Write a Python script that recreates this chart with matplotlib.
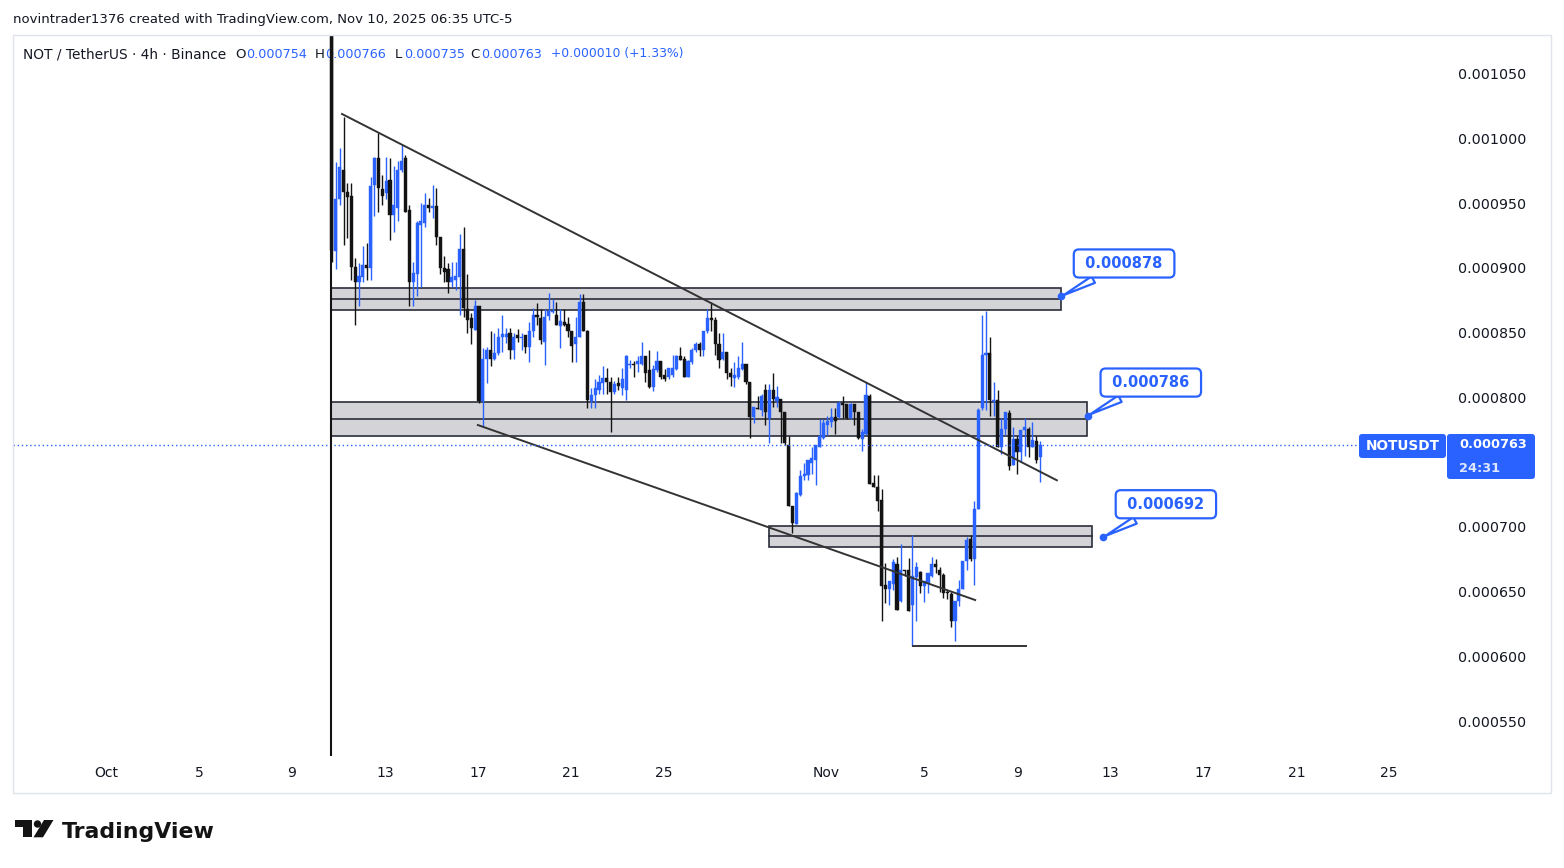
import numpy as np
import matplotlib.pyplot as plt
from matplotlib.patches import Rectangle, FancyBboxPatch, Circle, Polygon
from matplotlib.ticker import FuncFormatter

BLUE = '#2962ff'
DARK = '#131722'
CANDLE_DOWN = '#131313'

# NOTUSDT 4h candles, prices in millionths of USDT
opens = [1150, 913, 953, 976, 959, 956, 901, 889, 893, 902,
         900, 964, 985, 961, 958, 968, 941, 946, 976, 985,
         945, 889, 895, 933, 935, 949, 946, 948, 924, 900,
         899, 889, 891, 893, 915, 868, 861, 852, 871, 797,
         830, 837, 830, 834, 847, 847, 850, 837, 848, 846,
         848, 839, 851, 864, 861, 843, 863, 866, 864, 855,
         858, 857, 851, 841, 847, 874, 851, 797, 802, 806,
         811, 815, 812, 804, 811, 807, 806, 825, 826, 826,
         826, 832, 821, 808, 821, 828, 817, 816, 817, 822,
         832, 830, 816, 827, 837, 841, 837, 851, 861, 860,
         841, 830, 835, 819, 815, 816, 822, 826, 812, 785,
         792, 790, 806, 784, 806, 797, 799, 789, 763, 716,
         702, 725, 739, 740, 749, 752, 762, 769, 779, 781,
         785, 785, 796, 795, 784, 795, 789, 768, 772, 801,
         734, 731, 721, 655, 652, 656, 671, 643, 667, 667,
         640, 661, 665, 654, 657, 662, 671, 667, 663, 650,
         648, 627, 643, 652, 674, 691, 675, 714, 792, 833,
         834, 797, 798, 762, 776, 788, 748, 768, 758, 775,
         776, 762, 766, 754]
highs = [1160, 982, 993, 1017, 966, 966, 908, 904, 917, 919,
         970, 986, 1004, 972, 986, 985, 979, 983, 995, 987,
         949, 905, 936, 950, 958, 954, 964, 962, 924, 909,
         904, 905, 905, 926, 932, 895, 865, 875, 871, 838,
         839, 851, 850, 854, 864, 854, 854, 850, 853, 850,
         848, 858, 869, 873, 868, 868, 881, 876, 874, 868,
         868, 862, 851, 862, 880, 880, 852, 807, 814, 817,
         824, 823, 816, 813, 816, 823, 833, 829, 828, 832,
         843, 832, 837, 825, 836, 828, 822, 823, 833, 833,
         839, 832, 829, 838, 843, 843, 851, 868, 874, 862,
         850, 850, 835, 823, 827, 832, 843, 826, 812, 793,
         801, 803, 810, 810, 819, 809, 799, 789, 770, 716,
         727, 744, 749, 752, 762, 763, 783, 783, 786, 792,
         792, 797, 801, 795, 796, 795, 789, 776, 812, 803,
         740, 740, 729, 672, 658, 675, 677, 687, 667, 676,
         694, 673, 666, 658, 664, 677, 675, 669, 664, 651,
         650, 643, 659, 674, 692, 694, 720, 792, 864, 867,
         847, 812, 806, 784, 789, 790, 777, 770, 775, 784,
         777, 781, 770, 766]
lows = [905, 899, 949, 918, 923, 891, 856, 871, 889, 891,
        891, 940, 943, 949, 953, 922, 928, 936, 974, 943,
        871, 871, 878, 885, 932, 943, 939, 918, 895, 889,
        881, 885, 883, 864, 862, 850, 841, 852, 796, 777,
        811, 824, 829, 833, 835, 842, 830, 830, 843, 837,
        834, 827, 847, 856, 841, 825, 860, 865, 856, 838,
        855, 847, 827, 827, 847, 851, 792, 792, 792, 803,
        803, 803, 773, 803, 806, 802, 798, 823, 816, 820,
        825, 812, 807, 805, 820, 814, 813, 814, 816, 821,
        829, 816, 816, 826, 835, 832, 832, 850, 851, 833,
        823, 829, 814, 809, 808, 814, 821, 810, 769, 780,
        791, 786, 779, 765, 793, 793, 765, 763, 716, 695,
        702, 724, 736, 736, 741, 732, 762, 768, 771, 777,
        772, 784, 784, 783, 783, 779, 768, 759, 771, 733,
        731, 712, 627, 641, 640, 651, 636, 642, 662, 635,
        608, 627, 649, 642, 649, 661, 664, 650, 645, 644,
        623, 612, 639, 652, 667, 674, 655, 714, 790, 790,
        786, 786, 762, 756, 771, 744, 748, 741, 750, 755,
        754, 762, 749, 735]
closes = [914, 953, 978, 959, 955, 901, 889, 894, 902, 900,
          963, 985, 962, 956, 967, 941, 949, 976, 983, 943,
          889, 896, 935, 936, 949, 946, 948, 924, 900, 897,
          889, 893, 894, 915, 869, 860, 854, 871, 797, 830,
          837, 830, 834, 847, 849, 849, 837, 847, 846, 847,
          839, 851, 864, 862, 844, 862, 867, 867, 856, 859,
          856, 851, 840, 847, 874, 851, 798, 802, 807, 812,
          815, 812, 804, 810, 809, 814, 832, 826, 825, 828,
          832, 819, 808, 822, 828, 816, 814, 823, 823, 832,
          829, 816, 828, 837, 841, 837, 851, 861, 860, 841,
          829, 835, 819, 816, 817, 823, 826, 812, 785, 793,
          791, 801, 789, 806, 799, 800, 789, 765, 716, 703,
          726, 739, 741, 752, 753, 763, 770, 780, 782, 785,
          782, 796, 794, 784, 795, 789, 769, 773, 802, 733,
          731, 720, 654, 652, 658, 673, 636, 667, 666, 635,
          662, 669, 654, 658, 664, 671, 669, 663, 649, 649,
          627, 643, 652, 674, 690, 675, 714, 790, 833, 834,
          798, 798, 762, 776, 789, 747, 768, 758, 775, 777,
          762, 767, 752, 763]

# support / resistance zones (bar index range, low, mid, high)
zone_start = [0.74, 0.74, 113.9]
zone_end = [189.4, 196.1, 197.4]
zone_low = [867.6, 770.5, 684.7]
zone_mid = [876.0, 783.2, 693.0]
zone_high = [884.6, 796.3, 700.7]

# callout labels
callout_idx = [189.4, 196.3, 200.2]
callout_price = [878, 786, 692]

# drawn lines (bar index, price)
upper_line_x, upper_line_y = [3.6, 188.3], [1019, 736]
lower_line_x, lower_line_y = [38.7, 167.2], [778.7, 643.5]
floor_x, floor_y = [151.1, 180.3], [608, 608]
marker_bar = 0.74

tick_days = [0, 4, 8, 12, 16, 20, 24, 31, 35, 39, 43, 47, 51, 55]   # days since Oct 1
tick_labels = ['Oct', '5', '9', '13', '17', '21', '25', 'Nov', '5', '9', '13', '17', '21', '25']
# 0.000750 sits under the last-price tag, so it is not shown
price_levels = [550, 600, 650, 700, 800, 850, 900, 950, 1000, 1050]
last_price = 763


def to_price(v):
    return np.asarray(v, dtype=float) * 1e-6


def bar_of_day(day):
    # first candle opens on day 9.72; session shifts a bit after the DST change
    return 1 + 6 * (day - 9.72) + (1.5 if day > 32 else 0)


def main():
    plt.rcParams['font.family'] = ['DejaVu Sans']
    W, H = 1564, 868
    fig = plt.figure(figsize=(W / 100, H / 100), dpi=100, facecolor='white')
    ax = fig.add_axes([13 / W, 1 - 756 / H, 1427 / W, 721 / H])
    ov = fig.add_axes([0, 0, 1, 1], zorder=10)
    ov.set_xlim(0, W)
    ov.set_ylim(H, 0)
    ov.axis('off')
    ov.patch.set_alpha(0)

    o, h, l, c = map(to_price, (opens, highs, lows, closes))
    x = np.arange(1, len(o) + 1)
    up = c >= o
    colors = np.where(up, BLUE, CANDLE_DOWN)

    # zones
    for x0, x1, lo, mid, hi in zip(zone_start, zone_end, zone_low, zone_mid, zone_high):
        ax.add_patch(Rectangle((x0, lo * 1e-6), x1 - x0, (hi - lo) * 1e-6,
                               fc='#d4d4d8', ec='#2a2e39', lw=1.2, zorder=1))
        ax.plot([x0, x1], [mid * 1e-6] * 2, color='#2a2e39', lw=1.2, zorder=1.5)

    # candles
    ax.vlines(x, l, h, colors=colors, lw=1.0, zorder=2)
    body = np.maximum(np.abs(c - o), 1.0e-6)
    ax.bar(x, body, bottom=np.minimum(o, c), width=0.8, color=colors,
           edgecolor=colors, lw=0.3, zorder=2.5)

    # trend lines and marker lines
    ax.plot(upper_line_x, to_price(upper_line_y), color='#333333', lw=1.4, zorder=3)
    ax.plot(lower_line_x, to_price(lower_line_y), color='#333333', lw=1.4, zorder=3)
    ax.plot(floor_x, to_price(floor_y), color='#333333', lw=1.4, zorder=3)
    ax.axvline(marker_bar, color=CANDLE_DOWN, lw=1.5, zorder=4)

    # last price line
    ax.axhline(last_price * 1e-6, color=BLUE, lw=1, ls=(0, (1, 2)), zorder=3)

    # callouts
    for xi, p in zip(callout_idx, callout_price):
        ax.annotate(' {:.6f} '.format(p * 1e-6), xy=(xi, p * 1e-6), xytext=(63, 33),
                    textcoords='offset pixels', ha='center', va='center',
                    fontsize=10.5, fontweight='bold', color=BLUE, zorder=6,
                    bbox=dict(boxstyle='round,pad=0.45,rounding_size=0.35',
                              fc='white', ec=BLUE, lw=1.6),
                    arrowprops=dict(arrowstyle='wedge,tail_width=0.5,shrink_factor=0.5',
                                    fc='white', ec=BLUE, lw=1.6),
                    annotation_clip=False)
        ax.plot(xi, p * 1e-6, 'o', ms=4.5, color=BLUE, zorder=7, clip_on=False)

    ax.set_xlim(-81.4, 287.3)
    ax.set_ylim(523e-6, 1080e-6)
    for s in ax.spines.values():
        s.set_visible(False)
    ax.yaxis.tick_right()
    ax.set_yticks(to_price(price_levels))
    ax.yaxis.set_major_formatter(FuncFormatter(lambda v, _: '{:.6f}'.format(v)))
    ax.tick_params(axis='y', length=0, pad=13, labelsize=10.3, labelcolor=DARK)
    ax.set_xticks([bar_of_day(d) for d in tick_days])
    ax.set_xticklabels(tick_labels)
    ax.tick_params(axis='x', length=0, pad=7.5, labelsize=10, labelcolor=DARK)

    # legend line (drawn under the vertical marker line)
    legend_parts = [(23, 'NOT / TetherUS · 4h · Binance', DARK, 9.9), (235, 'O', DARK, 9.5),
                    (246, '0.000754', BLUE, 9.2), (315, 'H', DARK, 9.5), (325, '0.000766', BLUE, 9.2),
                    (395, 'L', DARK, 9.5), (404, '0.000735', BLUE, 9.2), (470, 'C', DARK, 9.5),
                    (481, '0.000763', BLUE, 9.2), (551, '+0.000010 (+1.33%)', BLUE, 8.9)]
    for px, txt, col, fs in legend_parts:
        ax.text(px, 54, txt, transform=ov.transData, fontsize=fs, color=col,
                va='center', ha='left', zorder=1, clip_on=False)

    # frame, header, price tags, logo
    ov.add_patch(Rectangle((13, 35), 1538, 758, fill=False, ec='#e0e3eb', lw=1))
    ov.text(13, 19, 'novintrader1376 created with TradingView.com, Nov 10, 2025 06:35 UTC-5',
            fontsize=9.5, color=DARK, va='center', ha='left')
    ov.add_patch(FancyBboxPatch((1359, 434), 87, 24, boxstyle='round,pad=0,rounding_size=3',
                                fc=BLUE, ec='none'))
    ov.text(1402.5, 446.5, 'NOTUSDT', fontsize=9.8, fontweight='bold', color='white',
            ha='center', va='center')
    ov.add_patch(FancyBboxPatch((1447, 434), 88, 45, boxstyle='round,pad=0,rounding_size=3',
                                fc=BLUE, ec='none'))
    ov.text(1459, 445, '0.000763', fontsize=9.3, fontweight='bold', color='white',
            ha='left', va='center')
    ov.text(1459, 468, '24:31', fontsize=9.3, fontweight='bold', color='#dfe6ff',
            ha='left', va='center')

    ov.add_patch(Polygon([(15, 820), (31.7, 820), (31.7, 837.3), (22.7, 837.3), (22.7, 827.3), (15, 827.3)],
                         closed=True, fc='#131313', ec='none'))
    ov.add_patch(Circle((37.5, 824), 3.7, fc='#131313', ec='none'))
    ov.add_patch(Polygon([(44, 820), (53.5, 820), (43, 837.3), (33.5, 837.3)], closed=True,
                         fc='#131313', ec='none'))
    ov.text(62, 838, 'TradingView', fontsize=15.8, fontweight='bold', color='#131313',
            ha='left', va='baseline')

    fig.savefig('out.png', dpi=100, facecolor='white')


if __name__ == '__main__':
    main()
